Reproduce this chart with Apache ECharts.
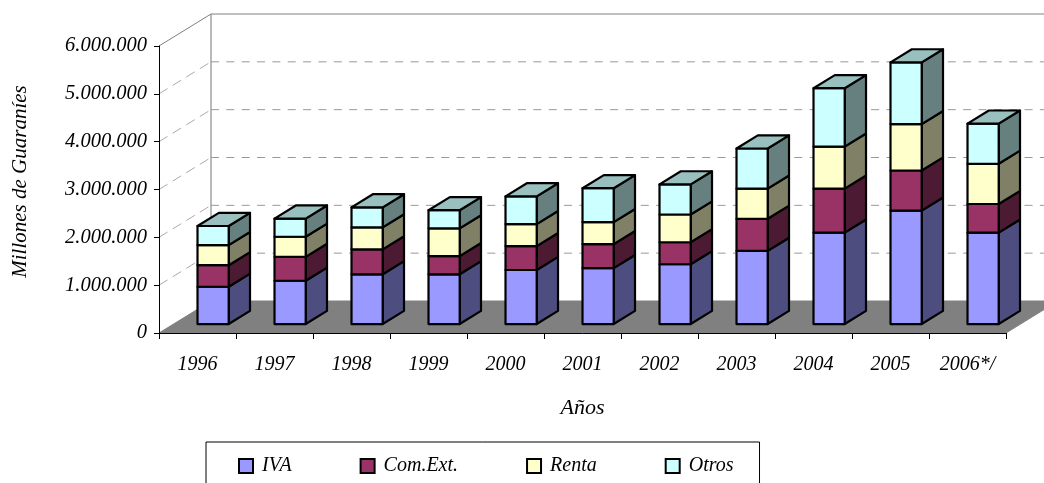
<!DOCTYPE html>
<html><head><meta charset="utf-8">
<style>html,body{margin:0;padding:0;background:#fff;overflow:hidden}#c{width:1044px;height:483px}</style>
<script src="https://cdn.jsdelivr.net/npm/echarts@6/dist/echarts.min.js"></script>
</head><body><div id="c"></div>
<script>
const categories = ['1996','1997','1998','1999','2000','2001','2002','2003','2004','2005','2006*/'];
const iva    = [780000,905000,1040000,1040000,1130000,1170000,1250000,1530000,1910000,2370000,1910000];
const comExt = [450000,500000,520000,380000,500000,500000,460000,670000,920000,840000,600000];
const renta  = [420000,420000,460000,580000,460000,460000,580000,630000,880000,970000,840000];
const otros  = [400000,380000,420000,380000,580000,710000,630000,840000,1220000,1290000,840000];
const yTicks = [0,1000000,2000000,3000000,4000000,5000000,6000000];

const FONT = '"Liberation Serif"';
const WALL_DX = 52, WALL_DY = -32;      // full depth of the 3D box
const INSET_X = 0.3, INSET_Y = 0.28;    // bar offset from the front, fractions of the box depth
const BAR_DEPTH = 0.41;                 // fraction of the box depth
const BAR_W = 0.405;                    // fraction of the category band

const names = ['IVA','Com.Ext.','Renta','Otros'];
const valuesBySeries = [iva, comExt, renta, otros];
const front = ['#9999FF','#993366','#FFFFCC','#CCFFFF'];
const side  = ['#4D4D80','#4D1A33','#808066','#668080'];
const topCol = '#99BFBF';

function poly(points, fill) {
  return {type:'polygon', shape:{points}, style:{fill, stroke:'#000', lineWidth:2.2, lineJoin:'round'}};
}
function barRender(si) {
  return function (params, api) {
    const i = api.value(0), lo = api.coord([i, api.value(1)]), hi = api.coord([i, api.value(2)]);
    const w = api.size([1,0])[0] * BAR_W;
    const ox = WALL_DX*INSET_X, oy = WALL_DY*INSET_Y, dx = WALL_DX*BAR_DEPTH, dy = WALL_DY*BAR_DEPTH;
    const l = lo[0]+ox-w/2, r = lo[0]+ox+w/2, b = lo[1]+oy, t = hi[1]+oy;
    const ch = [
      poly([[r,b],[r+dx,b+dy],[r+dx,t+dy],[r,t]], side[si]),
      poly([[l,b],[r,b],[r,t],[l,t]], api.visual('color'))
    ];
    if (si === names.length-1) ch.push(poly([[l,t],[r,t],[r+dx,t+dy],[l+dx,t+dy]], topCol));
    return {type:'group', children:ch};
  };
}
function wallRender(params, api) {
  const v = api.value(0), cs = params.coordSys, y = api.coord([0,v])[1];
  const x0 = cs.x, x1 = cs.x+cs.width;
  const ch = [];
  const gray = '#808080';
  if (v === 0) {
    ch.push({type:'polygon', shape:{points:[[x0,y],[x1,y],[x1+WALL_DX,y+WALL_DY],[x0+WALL_DX,y+WALL_DY]]}, style:{fill:gray, stroke:gray, lineWidth:1}});
    ch.push({type:'line', shape:{x1:x0+WALL_DX,y1:y+WALL_DY,x2:x0+WALL_DX,y2:cs.y+WALL_DY}, style:{stroke:'#8c8c8c', lineWidth:1.2}});
  } else if (v === yTicks[yTicks.length-1]) {
    ch.push({type:'line', shape:{x1:x0,y1:y,x2:x0+WALL_DX,y2:y+WALL_DY}, style:{stroke:gray, lineWidth:1}});
    ch.push({type:'line', shape:{x1:x0+WALL_DX,y1:y+WALL_DY,x2:x1+WALL_DX,y2:y+WALL_DY}, style:{stroke:gray, lineWidth:1}});
  } else {
    ch.push({type:'line', shape:{x1:x0,y1:y,x2:x0+WALL_DX,y2:y+WALL_DY}, style:{stroke:'#aaaaaa', lineWidth:1, lineDash:[10,6]}});
    ch.push({type:'line', shape:{x1:x0+WALL_DX,y1:y+WALL_DY,x2:x1+WALL_DX,y2:y+WALL_DY}, style:{stroke:'#999999', lineWidth:1, lineDash:[8,7.35]}});
  }
  return {type:'group', children:ch};
}
const labelStyle = {fontFamily:FONT, fontStyle:'italic', fontSize:20, color:'#000'};
const series = [{
  type:'custom', name:'wall', silent:true, z:1, clip:false,
  coordinateSystem:'cartesian2d', encode:{y:0},
  data:yTicks.map(v=>[v]), renderItem:wallRender
}];
names.forEach((n,si)=>{
  let data = categories.map((c,i)=>{
    let base = 0; for (let k=0;k<si;k++) base += valuesBySeries[k][i];
    return [i, base, base+valuesBySeries[si][i]];
  });
  series.push({type:'custom', name:n, z:3, clip:false, coordinateSystem:'cartesian2d',
    encode:{x:0,y:[1,2]}, itemStyle:{color:front[si]}, data, renderItem:barRender(si)});
});
const chart = echarts.init(document.getElementById('c'), null, {renderer:'canvas'});
chart.setOption({
  animation:false, backgroundColor:'#fff',
  grid:{left:159, right:38, top:46, bottom:150, containLabel:false, outerBoundsMode:'none'},
  xAxis:{type:'category', data:categories, boundaryGap:true,
    name:'Años', nameLocation:'middle', nameGap:64, nameTextStyle:Object.assign({},labelStyle,{fontSize:22}),
    axisLine:{show:true, lineStyle:{color:'#000', width:1}},
    axisTick:{show:true, length:6, lineStyle:{color:'#000', width:1}},
    axisLabel:Object.assign({},labelStyle,{margin:22, interval:0}), splitLine:{show:false}, z:4},
  yAxis:{type:'value', min:0, max:6000000, interval:1000000,
    name:'Millones de Guaraníes', nameLocation:'middle', nameGap:128,
    nameTextStyle:Object.assign({},labelStyle,{fontSize:21, padding:[0,0,0,16]}),
    axisLine:{show:true, lineStyle:{color:'#000', width:1}},
    axisTick:{show:true, length:5, lineStyle:{color:'#000', width:1}},
    axisLabel:Object.assign({},labelStyle,{fontSize:20.5, margin:12, verticalAlign:'middle', lineHeight:20, padding:[6,0,0,0], formatter:v=>String(v).replace(/\B(?=(\d{3})+$)/g,'.')}),
    splitLine:{show:false}, z:4},
  legend:{show:true, data:names, orient:'horizontal', left:206, top:442,
    itemWidth:14, itemHeight:14, itemGap:68, icon:'rect',
    padding:[11,26,14,32], borderColor:'#000', borderWidth:1, backgroundColor:'#fff',
    itemStyle:{borderColor:'#000', borderWidth:2}, inactiveColor:'#000',
    textStyle:Object.assign({},labelStyle,{lineHeight:20, padding:[6,0,0,4]})},
  series
});
</script></body></html>
